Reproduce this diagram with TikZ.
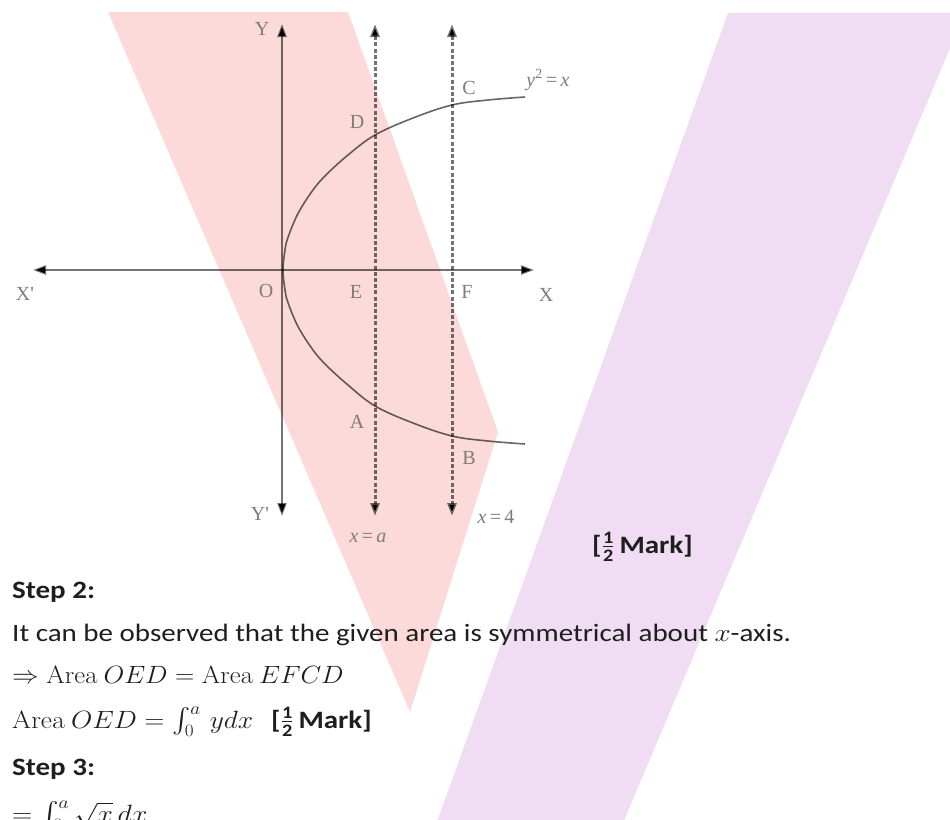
\RequirePackage{fix-cm}
\documentclass[tikz,border=0pt]{standalone}
\usepackage{amsmath}
\usepackage{graphicx}
\usepackage[no-math]{fontspec}
\setmainfont{Carlito}
\newfontfamily\lblfont{Liberation Serif}
\usetikzlibrary{arrows.meta}
\definecolor{pinkband}{RGB}{252,218,218}
\definecolor{purpleband}{RGB}{240,221,243}
\definecolor{lblgray}{RGB}{125,125,125}
\definecolor{textdark}{RGB}{30,30,30}
\newcommand{\wtxt}[1]{\scalebox{1.16}[1]{#1}}
\newcommand{\wmath}[1]{\scalebox{1.07}[1]{#1}}
\newcommand{\halfmark}{\textbf{[}$\frac{\textbf{1}}{\textbf{2}}$\,\textbf{Mark]}}
\begin{document}
\begin{tikzpicture}[x=1pt,y=-1pt,
  axisline/.style={draw=black, draw opacity=0.55, line width=2.2pt},
  guideline/.style={draw=black, draw opacity=0.55, line width=3pt, dash pattern=on 4pt off 2.2pt},
  curveline/.style={draw=black, draw opacity=0.6, line width=1.6pt},
  tips/.style={{Triangle[length=13pt,width=9pt]}-{Triangle[length=13pt,width=9pt]}},
  lbl/.style={font=\fontsize{20}{22}\selectfont\lblfont, text=lblgray, inner sep=0pt},
  body/.style={font=\fontsize{25}{30}\selectfont, text=textdark, anchor=base west, inner sep=0pt},
  boldbody/.style={body, font=\fontsize{25}{30}\selectfont\bfseries},
]
\useasboundingbox (0,0) rectangle (950,819);
\clip (0,0) rectangle (950,819);
% watermark bands
\fill[pinkband] (108,12) -- (348,12) -- (498,432) -- (410,712) -- cycle;
\fill[purpleband] (728,13) -- (965,13) -- (620,830) -- (434,830) -- cycle;

% axes
\coordinate (xl) at (33,270);
\coordinate (xr) at (534,270);
\coordinate (yt) at (282,24);
\coordinate (yb) at (282,516);
\draw[axisline, tips] (xl) -- (xr);
\draw[axisline, tips] (yt) -- (yb);

% vertical guide lines x=a and x=4
\coordinate (at) at (375,24);
\coordinate (ab) at (375,516);
\coordinate (ft) at (452,24);
\coordinate (fb) at (452,516);
\draw[guideline, tips] (at) -- (ab);
\draw[guideline, tips] (ft) -- (fb);

% parabola y^2 = x
\draw[curveline] plot[smooth, tension=0.6] coordinates {
  (525,97) (488,100) (452,105) (413,118) (375,135) (348,155) (326,175)
  (313,190) (298,213.5) (288,237.4) (285,250) (283,270) (285,290) (288,302.6)
  (298,326.5) (313,350) (326,365) (348,385) (375,406) (413,423) (452,436)
  (488,441) (525,444)};

% graph labels
\node[lbl] (lY) at (262,29) {Y};
\node[lbl] (lYp) at (260,514) {Y'};
\node[lbl] (lXp) at (25,294) {X'};
\node[lbl] (lX) at (546,295) {X};
\node[lbl] (lO) at (266,291) {O};
\node[lbl] (lE) at (356,292) {E};
\node[lbl] (lF) at (467,292) {F};
\node[lbl] (lD) at (357,122) {D};
\node[lbl] (lC) at (469,88) {C};
\node[lbl] (lA) at (357,422) {A};
\node[lbl] (lB) at (469,458) {B};
\node[lbl] (lcurve) at (548,80) {{\itshape y}\textsuperscript{2}\,=\,{\itshape x}};
\node[lbl] (lxa) at (368,538) {{\itshape x}\,=\,{\itshape a}};
\node[lbl] (lx4) at (496,517) {{\itshape x}\,=\,4};

% text
\node[body] (mark1) at (592,553) {\wtxt{\halfmark}};
\node[boldbody] (step2) at (12,598) {\wtxt{Step 2:}};
\node[body] (obs) at (12,641) {\wtxt{It can be observed that the given area is symmetrical about $x$-axis.}};
\node[body] (eq1) at (12,683) {\wmath{$\Rightarrow \mathrm{Area}\ OED = \mathrm{Area}\ EFCD$}};
\node[body] (eq2) at (12,728) {\scalebox{1.1}[1]{$\mathrm{Area}\ OED = \int_0^a\, ydx$}};
\node[body] (mark2) at (271,728) {\wtxt{\halfmark}};
\node[boldbody] (step3) at (12,775) {\wtxt{Step 3:}};
\node[body] (eq3) at (12,822) {\scalebox{1.12}[1]{$= \int_0^a \sqrt{x}\,dx$}};
\end{tikzpicture}
\end{document}
